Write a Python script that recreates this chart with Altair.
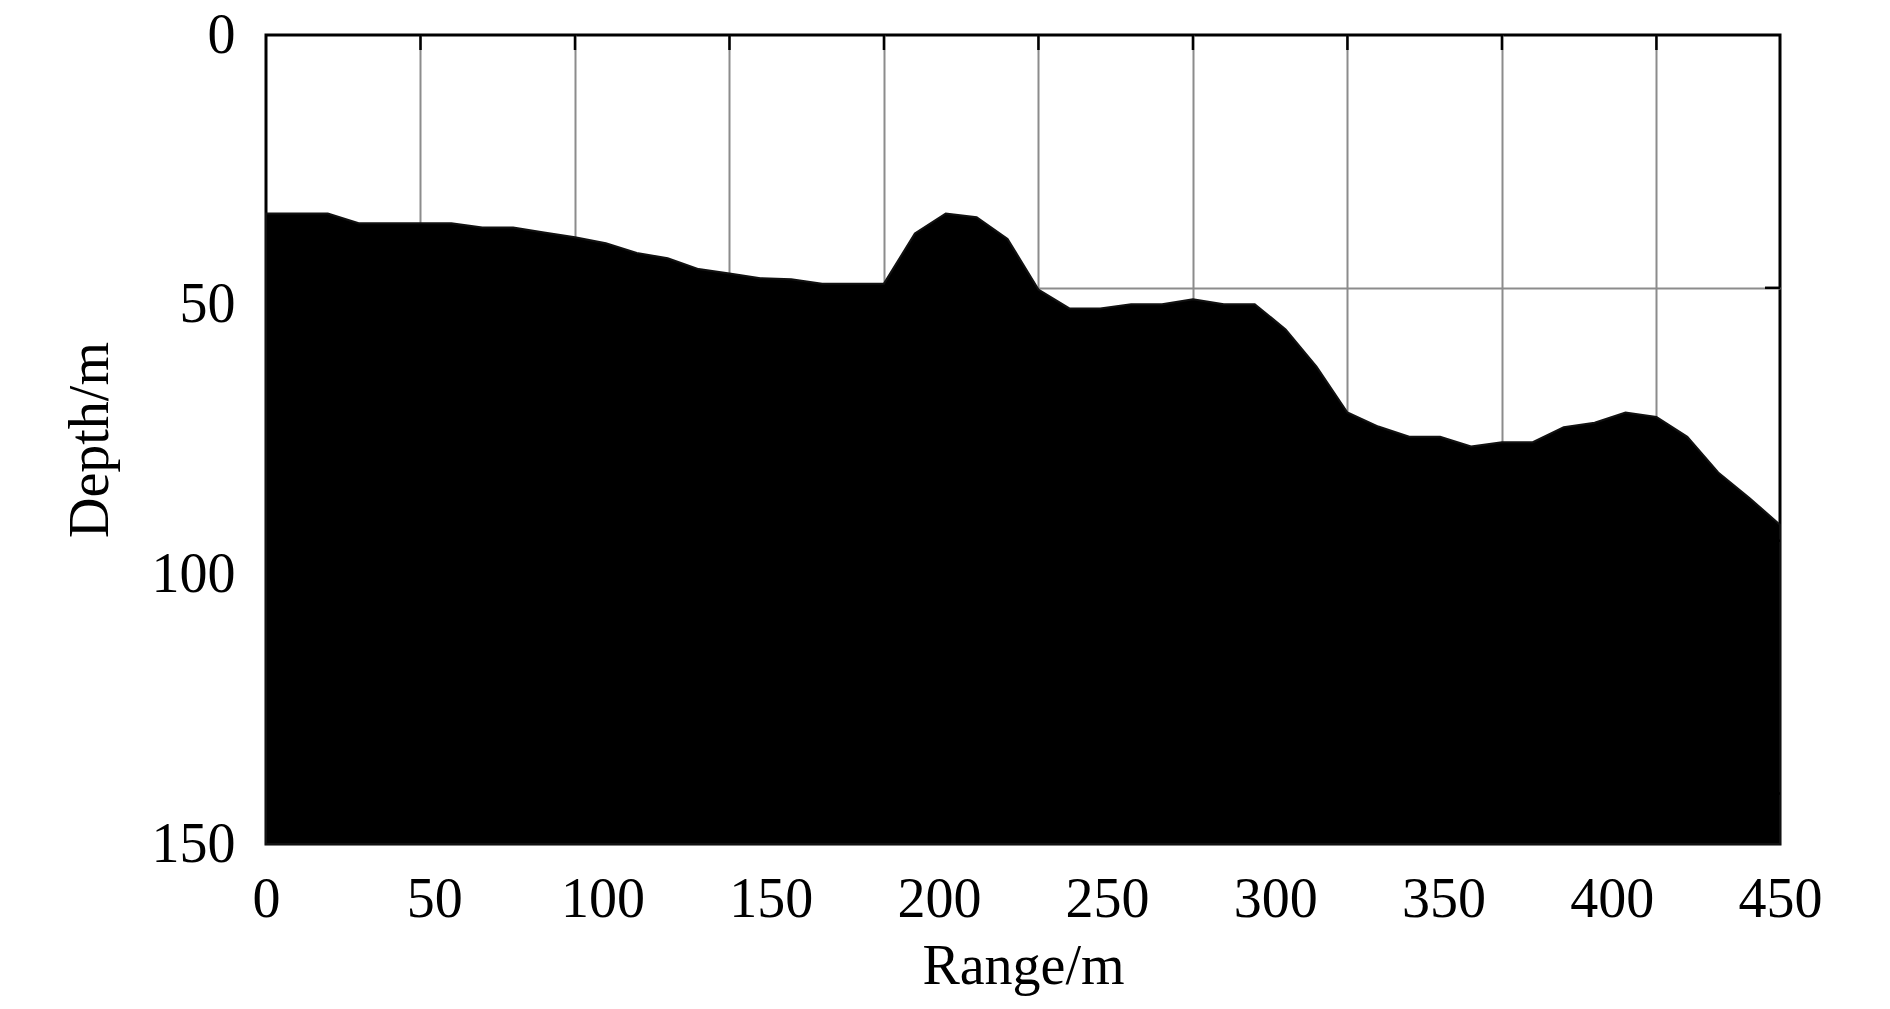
import altair as alt
import pandas as pd

# Sampled bathymetry profile (range in m as labelled on the axis, depth in m)
range_m = [0.0, 9.18, 18.37, 27.55, 36.73, 45.92, 55.10, 64.29, 73.47, 82.65,
           91.84, 101.02, 110.20, 119.39, 128.57, 137.76, 146.94, 156.12, 165.31, 174.49,
           183.67, 192.86, 202.04, 211.22, 220.41, 229.59, 238.78, 247.96, 257.14, 266.33,
           275.51, 284.69, 293.88, 303.06, 312.24, 321.43, 330.61, 339.80, 348.98, 358.16,
           367.35, 376.53, 385.71, 394.90, 404.08, 413.27, 422.45, 431.63, 440.82, 450.0]
depth_m = [33.1, 33.1, 33.1, 34.9, 34.9, 34.9, 34.9, 35.7, 35.7, 36.6,
           37.5, 38.6, 40.4, 41.4, 43.4, 44.2, 45.1, 45.3, 46.1, 46.1,
           46.1, 36.8, 33.1, 33.8, 37.8, 47.2, 50.7, 50.7, 49.9, 49.9,
           49.0, 49.9, 49.9, 54.6, 61.5, 70.0, 72.6, 74.5, 74.5, 76.3,
           75.5, 75.5, 72.7, 71.9, 70.0, 70.8, 74.5, 81.1, 85.8, 90.8]

# Axis tick labels and grid-line positions
x_labels = [0, 50, 100, 150, 200, 250, 300, 350, 400, 450]
y_labels = [0, 50, 100, 150]
grid_x = [45.92, 91.84, 137.76, 183.67, 229.59, 275.51, 321.43, 367.35, 413.27]
grid_y = [46.875, 93.75, 140.625]

W, H = 1514, 809
FONT = "Liberation Serif"
FS = 56
GRID_COLOR = "#8c8c8c"

df = pd.DataFrame({"range": range_m, "depth": depth_m})
gx = pd.DataFrame({"gx": grid_x})
gy = pd.DataFrame({"gy": grid_y})

xscale = alt.Scale(domain=[0, 450], nice=False, zero=False)
yscale = alt.Scale(domain=[0, 150], reverse=True, nice=False, zero=False)

area = alt.Chart(df).mark_area(color="black", stroke="#111111", strokeWidth=2).encode(
    x=alt.X("range:Q", scale=xscale,
            axis=alt.Axis(orient="bottom", values=x_labels, title="Range/m", grid=False,
                          ticks=False, tickSize=0, domain=False, labelPadding=28,
                          titlePadding=12, labelFlush=False, labelOverlap=False, format="d")),
    y=alt.Y("depth:Q", scale=yscale,
            axis=alt.Axis(orient="left", values=y_labels, title="Depth/m", grid=False,
                          ticks=False, tickSize=0, domain=False, labelPadding=31,
                          titlePadding=32, labelOverlap=False, format="d")),
    y2=alt.datum(150),
)

xticks = alt.Chart(gx).mark_rule(color="black", strokeWidth=2.5).encode(
    x=alt.X("gx:Q", scale=xscale,
            axis=alt.Axis(orient="top", values=grid_x, grid=True, gridColor=GRID_COLOR,
                          gridWidth=2, gridOpacity=1, labels=False, ticks=False,
                          domain=False, title=None)),
    y=alt.value(0),
    y2=alt.value(15),
)

yticks = alt.Chart(gy).mark_rule(color="black", strokeWidth=2.5).encode(
    y=alt.Y("gy:Q", scale=yscale,
            axis=alt.Axis(orient="right", values=grid_y, grid=True, gridColor=GRID_COLOR,
                          gridWidth=2, gridOpacity=1, labels=False, ticks=False,
                          domain=False, title=None)),
    x=alt.value(W - 15),
    x2=alt.value(W),
)

chart = (
    alt.layer(area, xticks, yticks)
    .resolve_axis(x="independent", y="independent")
    .properties(
        width=W,
        height=H,
        autosize=alt.AutoSizeParams(type="none"),
        padding={"left": 258, "top": 27, "right": 90, "bottom": 154},
        background="white",
    )
    .configure_view(stroke="black", strokeWidth=3)
    .configure_axis(
        labelFont=FONT, labelFontSize=FS, labelColor="black",
        titleFont=FONT, titleFontSize=FS, titleColor="black", titleFontWeight="normal",
    )
)

chart.save("out.html", embed_options={"renderer": "svg", "actions": False})
